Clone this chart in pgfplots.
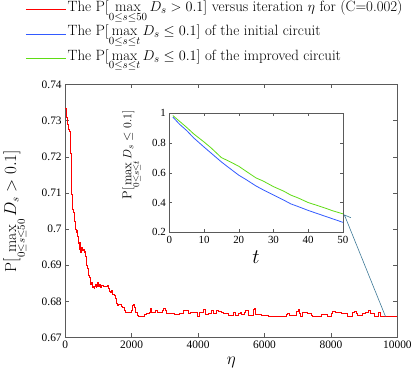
\documentclass[border=0pt]{standalone}
\usepackage{fontspec}
\newfontfamily\tickfont{Liberation Serif}
\usepackage{pgfplots}
\pgfplotsset{compat=1.18}
\usetikzlibrary{arrows.meta}

\definecolor{curvered}{RGB}{255,0,0}
\definecolor{curveblue}{RGB}{50,90,255}
\definecolor{curvegreen}{RGB}{95,220,20}
\definecolor{arrowteal}{RGB}{60,120,150}
\definecolor{axisgray}{RGB}{90,90,90}
\newcommand{\legfont}{\fontsize{15}{17}\selectfont}

\begin{document}
\begin{tikzpicture}
\begin{axis}[
  name=main,
  scale only axis,
  width=335pt, height=255pt,
  xmin=0, xmax=10000, ymin=0.67, ymax=0.74,
  xtick={0,2000,...,10000},
  ytick={0.67,0.68,...,0.741},
  scaled x ticks=false,
  /pgf/number format/1000 sep={},
  /pgf/number format/assume math mode=true,
  tick label style={font=\tickfont\fontsize{11.5}{13}\selectfont},
  tick align=inside,
  major tick length=4pt,
  axis line style={axisgray},
  every tick/.style={axisgray},
  xlabel={$\eta$},
  xlabel style={font=\fontsize{18}{20}\selectfont, yshift=-2pt},
  ylabel={$\mathrm{P}[\max\limits_{0\le s\le 50} D_s > 0.1]$},
  ylabel style={font=\fontsize{16}{18}\selectfont, at={(axis description cs:-0.15,0.5)}, anchor=center},
  legend style={at={(axis description cs:-0.12,1.335)}, anchor=north west,
    draw=none, fill=none, row sep=5pt, inner sep=0pt,
    nodes={inner xsep=1.5pt, inner ysep=0.5pt, text height=11pt, text depth=7.5pt}},
  legend cell align=left,
  legend image code/.code={\draw[#1] (0pt,0pt) -- (40pt,0pt);},
]
\addlegendimage{draw=curvered, line width=0.9pt}
\addlegendentry{\legfont The $\mathrm{P}[\max\limits_{0\le s\le 50} D_s > 0.1]$ versus iteration $\eta$ for (C=0.002)}
\addlegendimage{draw=curveblue, line width=0.9pt}
\addlegendentry{\legfont The $\mathrm{P}[\max\limits_{0\le s\le t} D_s \le 0.1]$ of the initial circuit}
\addlegendimage{draw=curvegreen, line width=0.9pt}
\addlegendentry{\legfont The $\mathrm{P}[\max\limits_{0\le s\le t} D_s \le 0.1]$ of the improved circuit}

\addplot[const plot, curvered, line width=0.8pt, forget plot] coordinates {
(0,0.7335)(25,0.7328)(50,0.7310)(75,0.7290)(100,0.7275)(125,0.7270)(150,0.7240)
(165,0.7210)(180,0.7170)(190,0.7130)(200,0.7095)(210,0.7060)(230,0.7055)(250,0.7045)
(270,0.7030)(290,0.7020)(310,0.7000)(330,0.6990)(350,0.6995)(370,0.6980)(390,0.6968)
(410,0.6960)(425,0.6945)(440,0.6962)(455,0.6950)(470,0.6935)(490,0.6950)(510,0.6945)
(530,0.6940)(550,0.6945)(570,0.6935)(590,0.6938)(610,0.6925)(630,0.6905)(650,0.6900)
(670,0.6890)(690,0.6880)(710,0.6872)(730,0.6865)(750,0.6855)(770,0.6848)(790,0.6852)
(810,0.6845)(830,0.6838)(850,0.6842)(870,0.6835)(890,0.6840)(910,0.6848)(930,0.6838)
(950,0.6842)(970,0.6852)(990,0.6848)(1010,0.6840)(1040,0.6846)(1070,0.6838)(1100,0.6845)
(1140,0.6840)(1180,0.6842)(1220,0.6840)(1260,0.6845)(1300,0.6835)(1330,0.6828)(1360,0.6826)
(1400,0.6830)(1430,0.6820)(1470,0.6815)(1500,0.6808)(1530,0.6795)(1560,0.6790)(1600,0.6792)
(1650,0.6792)(1690,0.6785)(1730,0.6782)(1770,0.6776)(1800,0.6770)(1850,0.6768)(1900,0.6768)
(1950,0.6770)(1990,0.6776)(2030,0.6788)(2060,0.6792)(2090,0.6782)(2120,0.6770)(2160,0.6760)
(2200,0.6758)(2330,0.6758)(2370,0.6765)(2450,0.6767)(2520,0.6770)(2560,0.6780)(2590,0.6770)
(2680,0.6768)(2730,0.6775)(2780,0.6770)(2850,0.6768)(2920,0.6774)(2970,0.6780)(3030,0.6776)
(3060,0.6767)(3200,0.6767)(3300,0.6765)(3450,0.6767)(3570,0.6774)(3720,0.6767)(3760,0.6769)
(3980,0.6759)(4030,0.6769)(4170,0.6778)(4230,0.6765)(4320,0.6767)(4400,0.6774)(4450,0.6767)
(4560,0.6776)(4620,0.6771)(4700,0.6770)(4760,0.6767)(4900,0.6760)(4930,0.6762)(5050,0.6768)
(5120,0.6762)(5200,0.6767)(5260,0.6770)(5300,0.6764)(5400,0.6770)(5430,0.6775)(5500,0.6762)
(5560,0.6760)(5650,0.6778)(5700,0.6780)(5720,0.6765)(5900,0.6762)(6120,0.6757)(6650,0.6764)
(6700,0.6766)(6750,0.6760)(6850,0.6760)(6950,0.6771)(7030,0.6778)(7050,0.6766)(7080,0.6759)
(7150,0.6768)(7200,0.6768)(7300,0.6766)(7400,0.6760)(7450,0.6759)(7700,0.6764)(7900,0.6759)
(8000,0.6766)(8050,0.6771)(8120,0.6768)(8200,0.6770)(8300,0.6767)(8350,0.6766)(8480,0.6759)
(8650,0.6768)(8700,0.6772)(8760,0.6766)(8780,0.6761)(8950,0.6766)(9050,0.6768)(9120,0.6775)
(9200,0.6766)(9320,0.6759)(9420,0.6768)(9480,0.6759)(10000,0.6759)
};
% arrow from the end of the red curve to the inset
\draw[arrowteal, line width=0.6pt, -{Straight Barb[length=5pt]}]
  (axis cs:9640,0.6758) -- (axis cs:8400,0.7040);
\end{axis}

\begin{axis}[
  at={(105pt,106pt)},
  scale only axis,
  width=175pt, height=120pt,
  xmin=0, xmax=50, ymin=0.2, ymax=1,
  xtick={0,10,...,50},
  ytick={0.2,0.4,...,1.01},
  /pgf/number format/assume math mode=true,
  tick label style={font=\tickfont\fontsize{11}{12}\selectfont},
  tick align=inside,
  major tick length=3pt,
  axis line style={axisgray},
  every tick/.style={axisgray},
  axis background/.style={fill=white},
  xlabel={$t$},
  xlabel style={font=\fontsize{20}{22}\selectfont, yshift=-1pt},
  ylabel={$\mathrm{P}[\max\limits_{0\le s\le t} D_s \le 0.1]$},
  ylabel style={font=\fontsize{13}{15}\selectfont, at={(axis description cs:-0.215,0.65)}, anchor=center},
]
\addplot[curveblue, line width=0.8pt] coordinates {
(1,0.975)(3,0.925)(5,0.884)(7,0.835)(10,0.773)(12,0.733)(15,0.673)(17,0.637)
(20,0.584)(22,0.556)(25,0.511)(27,0.486)(30,0.451)(33,0.416)(35,0.391)(37,0.374)
(40,0.347)(42,0.331)(45,0.307)(47,0.291)(50,0.267)
};
\addplot[curvegreen, line width=0.8pt] coordinates {
(1,0.985)(3,0.945)(5,0.905)(7,0.862)(10,0.807)(12,0.768)(15,0.702)(17,0.680)
(20,0.644)(22,0.612)(25,0.565)(27,0.545)(30,0.507)(33,0.476)(35,0.450)(37,0.432)
(40,0.400)(42,0.385)(45,0.362)(47,0.345)(50,0.324)
};
\end{axis}
\end{tikzpicture}
\end{document}
